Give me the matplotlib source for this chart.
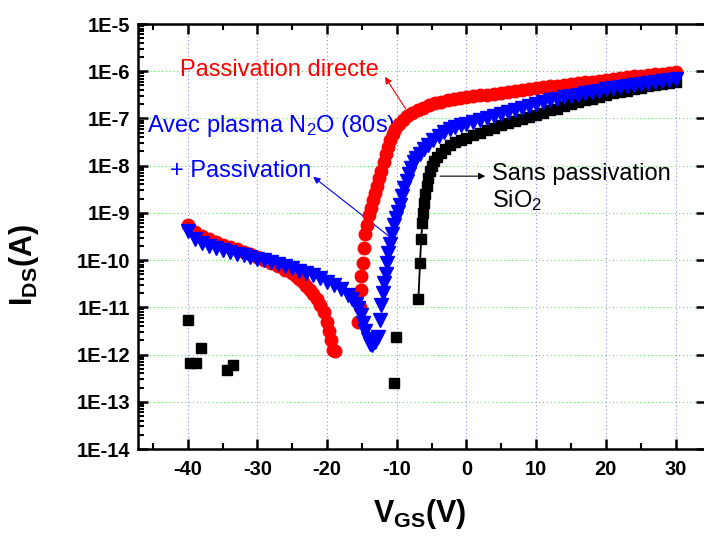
import numpy as np
import matplotlib.pyplot as plt
from matplotlib.ticker import LogLocator, NullFormatter, MultipleLocator

plt.rcParams['font.family'] = 'Liberation Sans'
plt.rcParams['mathtext.fontset'] = 'custom'
plt.rcParams['mathtext.rm'] = 'Liberation Sans'
plt.rcParams['mathtext.it'] = 'Liberation Sans:italic'
plt.rcParams['mathtext.bf'] = 'Liberation Sans:bold'

# Sans passivation (noir) : points isoles dans le bruit + branche principale
v_black_off = [-40.0, -39.7, -38.8, -38.1, -34.4, -33.5, -10.4, -10.1]
i_black_off = [5.4e-12, 6.6e-13, 6.6e-13, 1.4e-12, 4.8e-13, 6.0e-13, 2.5e-13, 2.4e-12]

v_black = [-6.9, -6.67, -6.5, -6.35, -6.2, -6.05, -5.9, -5.7, -5.5, -5.25, -4.95,
           -4.6, -4.2, -3.7, -3.1, -2.4, -1.6, -0.8, 0,
           1, 2, 3, 4, 5, 6, 7, 8, 9, 10, 11, 12, 13, 14, 15,
           16, 17, 18, 19, 20, 21, 22, 23, 24, 25, 26, 27, 28, 29, 30]
i_black = [1.5e-11, 8.9e-11, 2.75e-10, 6.2e-10, 1.0e-9, 1.6e-9, 2.5e-9, 3.8e-9, 5.5e-9, 7.6e-9, 1.0e-8,
           1.23e-8, 1.51e-8, 1.86e-8, 2.24e-8, 2.7e-8, 3.16e-8, 3.55e-8, 3.9e-8,
           4.4e-8, 4.9e-8, 5.6e-8, 6.3e-8, 7.1e-8, 7.9e-8, 8.7e-8, 9.8e-8, 1.07e-7, 1.2e-7,
           1.32e-7, 1.48e-7, 1.62e-7, 1.82e-7, 2.0e-7,
           2.2e-7, 2.4e-7, 2.6e-7, 2.9e-7, 3.16e-7, 3.4e-7, 3.6e-7, 3.9e-7, 4.2e-7, 4.5e-7,
           4.8e-7, 5.0e-7, 5.4e-7, 5.6e-7, 6.0e-7]

# Passivation directe (rouge)
v_red = [-40, -39, -38, -37, -36, -35, -34, -33, -32, -31, -30, -29, -28, -27, -26, -25,
         -24.5, -24, -23.5, -23, -22.5, -22, -21.5, -21, -20.5, -20, -19.7, -19.4, -19.2, -18.9,
         -15.5, -15.3, -15.2, -15.1, -14.9, -14.7, -14.5, -14.3, -14.0, -13.7, -13.4, -13.1,
         -12.8, -12.5, -12.2, -11.9, -11.6, -11.3, -11.0, -10.6, -10.2, -9.7, -9.1, -8.5,
         -7.8, -7.0, -6.2, -5.4, -4.5, -3.6, -2.7, -1.8, -0.9, 0,
         1, 2, 3, 4, 5, 6, 7, 8, 9, 10, 11, 12, 13, 14, 15,
         16, 17, 18, 19, 20, 21, 22, 23, 24, 25, 26, 27, 28, 29, 30]
i_red = [5.5e-10, 4.0e-10, 3.2e-10, 2.75e-10, 2.4e-10, 2.14e-10, 1.9e-10, 1.7e-10, 1.48e-10,
         1.32e-10, 1.15e-10, 1.0e-10, 8.7e-11, 7.6e-11, 6.3e-11, 5.4e-11,
         4.7e-11, 4.0e-11, 3.4e-11, 2.8e-11, 2.34e-11, 1.95e-11, 1.48e-11, 1.12e-11, 7.9e-12,
         5.0e-12, 3.2e-12, 2.0e-12, 1.26e-12, 1.17e-12,
         4.9e-12, 1.02e-11, 2.3e-11, 4.6e-11, 8.5e-11, 1.78e-10, 3.5e-10, 5.6e-10, 8.9e-10,
         1.26e-9, 1.9e-9, 2.7e-9,
         3.8e-9, 5.5e-9, 7.9e-9, 1.2e-8, 1.74e-8, 2.5e-8, 3.5e-8, 4.7e-8, 6.0e-8, 7.6e-8,
         9.3e-8, 1.1e-7,
         1.29e-7, 1.51e-7, 1.7e-7, 1.9e-7, 2.1e-7, 2.24e-7, 2.45e-7, 2.57e-7, 2.7e-7, 2.8e-7,
         2.95e-7, 3.1e-7, 3.16e-7, 3.3e-7, 3.45e-7, 3.6e-7, 3.8e-7, 4.0e-7, 4.2e-7, 4.4e-7,
         4.6e-7, 4.8e-7, 4.9e-7, 5.1e-7, 5.4e-7,
         5.6e-7, 5.9e-7, 6.0e-7, 6.3e-7, 6.6e-7, 6.9e-7, 7.1e-7, 7.4e-7, 7.8e-7, 7.9e-7,
         8.3e-7, 8.7e-7, 8.9e-7, 9.3e-7, 9.8e-7]

# Avec plasma N2O (80s) + passivation (bleu)
v_blue = [-40, -39, -38, -37, -36, -35, -34, -33, -32, -31, -30, -29, -28, -27, -26, -25,
          -24, -23, -22, -21, -20, -19, -18, -17, -16.4, -15.9, -15.5, -15.1, -14.8, -14.5,
          -14.2, -13.9, -13.5, -13.1, -12.7,
          -12.4, -12.2, -12.0, -11.8, -11.6, -11.4, -11.2, -11.0, -10.75, -10.45, -10.1,
          -9.8, -9.5, -9.2, -8.9, -8.6, -8.3, -8.0, -7.6, -7.2, -6.7, -6.1, -5.5, -4.8,
          -4.0, -3.2, -2.4, -1.6, -0.8, 0,
          1, 2, 3, 4, 5, 6, 7, 8, 9, 10, 11, 12, 13, 14, 15,
          16, 17, 18, 19, 20, 21, 22, 23, 24, 25, 26, 27, 28, 29, 30]
i_blue = [4.2e-10, 2.8e-10, 2.3e-10, 2.0e-10, 1.8e-10, 1.66e-10, 1.5e-10, 1.38e-10, 1.26e-10,
          1.15e-10, 1.07e-10, 1.0e-10, 9.1e-11, 8.1e-11, 7.4e-11, 6.8e-11,
          6.0e-11, 5.4e-11, 4.8e-11, 4.2e-11, 3.5e-11, 3.0e-11, 2.4e-11, 1.82e-11, 1.48e-11,
          1.2e-11, 9.5e-12, 6.8e-12, 4.7e-12, 3.2e-12,
          2.1e-12, 1.7e-12, 1.58e-12, 1.82e-12, 2.4e-12,
          5.4e-12, 1.12e-11, 2.0e-11, 3.2e-11, 5.2e-11, 8.9e-11, 1.41e-10, 2.24e-10, 3.5e-10,
          5.6e-10, 7.9e-10,
          1.05e-9, 1.5e-9, 2.24e-9, 3.3e-9, 4.8e-9, 6.8e-9, 8.9e-9, 1.17e-8, 1.45e-8, 1.74e-8,
          2.2e-8, 2.75e-8, 3.5e-8,
          4.3e-8, 5.2e-8, 6.0e-8, 6.6e-8, 7.1e-8, 7.6e-8,
          8.5e-8, 9.3e-8, 1.02e-7, 1.15e-7, 1.26e-7, 1.38e-7, 1.51e-7, 1.7e-7, 1.86e-7, 2.0e-7,
          2.2e-7, 2.4e-7, 2.57e-7, 2.8e-7, 3.0e-7,
          3.2e-7, 3.5e-7, 3.6e-7, 3.9e-7, 4.2e-7, 4.4e-7, 4.6e-7, 4.9e-7, 5.1e-7, 5.4e-7,
          5.6e-7, 5.9e-7, 6.2e-7, 6.5e-7, 6.8e-7]

x_ticks = [-40, -30, -20, -10, 0, 10, 20, 30]
y_ticks = [1e-14, 1e-13, 1e-12, 1e-11, 1e-10, 1e-9, 1e-8, 1e-7, 1e-6, 1e-5]
y_labels = ["1E-14", "1E-13", "1E-12", "1E-11", "1E-10", "1E-9", "1E-8", "1E-7", "1E-6", "1E-5"]

fig = plt.figure(figsize=(7.04, 5.37), dpi=100)
ax = fig.add_axes([138.3 / 704, 1 - 449 / 537, 567.2 / 704, 425 / 537])

ax.plot(v_black_off, i_black_off, 's', color='black', ms=7.5, ls='none', zorder=3)
ax.plot(v_black, i_black, '-s', color='black', ms=7.5, lw=1.3, zorder=3)
ax.plot(v_red, i_red, 'o', color='red', ms=9, ls='none', zorder=4)
ax.plot(v_blue, i_blue, 'v', color='blue', ms=10, ls='none', zorder=5)

ax.set_yscale('log')
ax.set_xlim(-47.1, 34.3)
ax.set_ylim(1e-14, 1e-5)

ax.set_xticks(x_ticks)
ax.set_xticklabels([str(t) for t in x_ticks], fontweight='bold')
ax.xaxis.set_minor_locator(MultipleLocator(5))
ax.set_yticks(y_ticks)
ax.set_yticklabels(y_labels, fontweight='bold')
ax.yaxis.set_minor_locator(LogLocator(base=10, subs=np.arange(2, 10), numticks=100))
ax.yaxis.set_minor_formatter(NullFormatter())

ax.tick_params(which='major', direction='in', length=7, width=1.8, top=True, right=True,
               labelsize=14.5)
ax.tick_params(axis='x', which='major', pad=8)
ax.tick_params(axis='y', which='major', pad=6)
ax.tick_params(which='minor', direction='in', length=4, width=1.5, top=True, right=False)
for s in ax.spines.values():
    s.set_linewidth(1.8)

ax.set_axisbelow(True)
ax.xaxis.grid(True, which='major', color='#8c8cff', ls=(0, (1, 2.5)), lw=0.8)
ax.yaxis.grid(True, which='major', color='#55ee55', ls=(0, (1, 2.5)), lw=0.8)

# annotations
ax.text(-41.1, 7.9e-7, 'Passivation directe', color='red', fontsize=17, va='baseline')
ax.annotate('', xy=(-11.7, 7.6e-7), xytext=(-8.7, 1.58e-7),
            arrowprops=dict(arrowstyle='-|>', color='red', lw=0.8, mutation_scale=10,
                            shrinkA=0, shrinkB=0))
ax.text(-45.8, 5.1e-8, r'Avec plasma N$_2$O (80s)', color='blue', fontsize=17, va='baseline')
ax.text(-42.5, 5.7e-9, '+ Passivation', color='blue', fontsize=17, va='baseline')
ax.annotate('', xy=(-22.0, 5.8e-9), xytext=(-11.0, 3.1e-10),
            arrowprops=dict(arrowstyle='-|>', color='blue', lw=0.8, mutation_scale=10,
                            shrinkA=0, shrinkB=0))
ax.text(3.6, 4.9e-9, 'Sans passivation', color='black', fontsize=17, va='baseline')
ax.text(3.6, 1.35e-9, r'SiO$_2$', color='black', fontsize=17, va='baseline')
ax.annotate('', xy=(2.7, 6.0e-9), xytext=(-3.8, 6.0e-9),
            arrowprops=dict(arrowstyle='-|>', color='black', lw=0.8, mutation_scale=10,
                            shrinkA=0, shrinkB=0))

ax.set_xlabel(r'$\mathbf{V}_{\mathbf{GS}}\mathbf{(V)}$', fontsize=22)
ax.xaxis.set_label_coords(0.4966, -0.113)
ax.set_ylabel(r'$\mathbf{I}_{\mathbf{DS}}\mathbf{(A)}$', fontsize=22)
ax.yaxis.set_label_coords(-0.172, 0.433)

fig.savefig('out.png', dpi=100)
